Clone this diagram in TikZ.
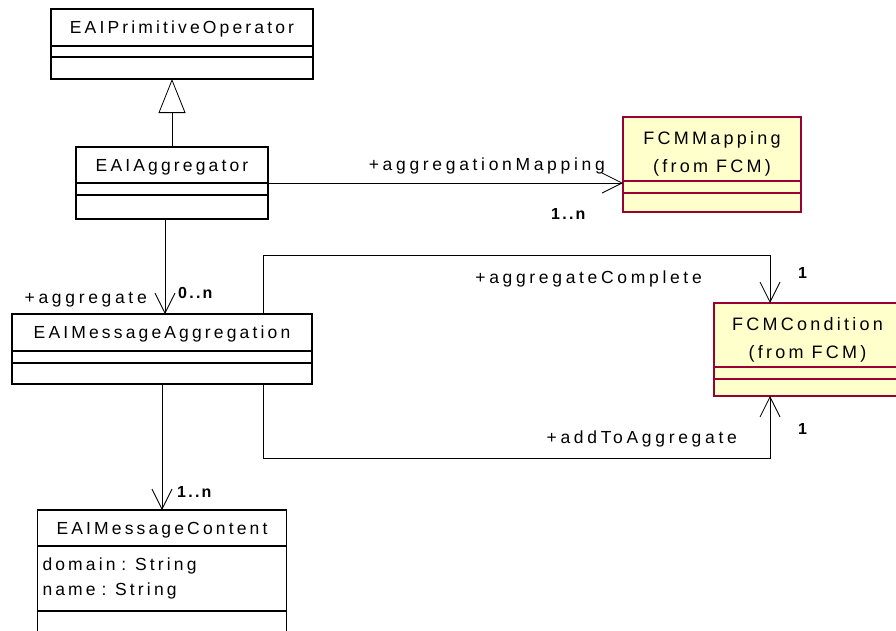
\documentclass[tikz,border=0pt]{standalone}
\usepackage{fontspec}
\setmainfont{Liberation Sans}
\newfontfamily\umlfont{Liberation Sans}[LetterSpace=18]
\newfontfamily\rolefont{Liberation Sans}[LetterSpace=21]
\newfontfamily\multfont{Liberation Sans}[LetterSpace=14]
\usepackage{xcolor}
\usetikzlibrary{positioning, arrows.meta}

\definecolor{fcmfill}{RGB}{255,255,204}
\definecolor{fcmline}{RGB}{153,0,51}

\tikzset{
  clsbox/.style={draw, rectangle, inner sep=0pt, outer sep=0pt, line width=1.2pt},
  clshead/.style={clsbox, text height=12.5pt, text depth=0pt, font=\umlfont\fontsize{17.5}{20}\selectfont},
  fcmhead/.style={clsbox, fcm, align=center, text height=46.5pt, text depth=0pt, font=\umlfont\fontsize{18}{28}\selectfont},
  clspart/.style={clsbox},
  fcm/.style={fill=fcmfill, draw=fcmline},
  role/.style={inner sep=0pt, font=\rolefont\fontsize{17.5}{20}\selectfont},
  mult/.style={inner sep=0pt, font=\multfont\bfseries\fontsize{16}{18}\selectfont},
  assoc/.style={-{Straight Barb[length=20pt, width=20pt]}, line width=0.8pt},
  inherit/.style={-{Triangle[open, length=34pt, width=27pt]}, line width=0.8pt},
}

\begin{document}
\begin{tikzpicture}[x=1pt, y=-1pt]
    \useasboundingbox (0,0) rectangle (896,630);

    % --- CLASSES (left column) ---
    \node (prim) [clshead, minimum width=262pt, minimum height=37pt, anchor=north west] at (51,9) {EAIPrimitiveOperator};
    \node (prim-a) [clspart, minimum width=262pt, minimum height=11pt, below=0pt of prim] {};
    \node (prim-o) [clspart, minimum width=262pt, minimum height=22pt, below=0pt of prim-a] {};

    \node (agg) [clshead, minimum width=192pt, minimum height=36pt, below=68pt of prim-o, xshift=-10pt] {EAIAggregator};
    \node (agg-a) [clspart, minimum width=192pt, minimum height=12pt, below=0pt of agg] {};
    \node (agg-o) [clspart, minimum width=192pt, minimum height=24pt, below=0pt of agg-a] {};

    \node (msg) [clshead, minimum width=300pt, minimum height=37pt, below=95pt of agg-o, xshift=-10pt] {EAIMessageAggregation};
    \node (msg-a) [clspart, minimum width=300pt, minimum height=12pt, below=0pt of msg] {};
    \node (msg-o) [clspart, minimum width=300pt, minimum height=21pt, below=0pt of msg-a] {};

    \node (cont) [clshead, minimum width=249pt, minimum height=36pt, below=126pt of msg-o] {EAIMessageContent};
    \node (cont-a) [clspart, minimum width=249pt, minimum height=65pt, below=0pt of cont, inner xsep=5pt, text width=239pt, align=left,
        font=\umlfont\fontsize{17.5}{25}\selectfont] {domain : String\\name : String};
    \node (cont-o) [clspart, minimum width=249pt, minimum height=30pt, below=0pt of cont-a] {};

    % --- CLASSES from FCM (right) ---
    \node (map) [fcmhead, minimum width=178pt, minimum height=64pt, anchor=north west] at (623,117) {FCMMapping\\(from FCM)};
    \node (map-a) [clspart, fcm, minimum width=178pt, minimum height=12pt, below=0pt of map] {};
    \node (map-o) [clspart, fcm, minimum width=178pt, minimum height=19pt, below=0pt of map-a] {};

    \node (cond) [fcmhead, minimum width=187pt, minimum height=64pt, anchor=north west] at (714,303) {FCMCondition\\(from FCM)};
    \node (cond-a) [clspart, fcm, minimum width=187pt, minimum height=12pt, below=0pt of cond] {};
    \node (cond-o) [clspart, fcm, minimum width=187pt, minimum height=17pt, below=0pt of cond-a] {};

    % --- CONNECTORS ---
    \draw[inherit] (agg.north) -- (agg.north |- prim-o.south);
    \draw[assoc] (agg.south east) -- (agg.south east -| map.west);
    \draw[assoc] ([xshift=-7pt]agg-o.south) -- ([xshift=-7pt]agg-o.south |- msg.north);
    \draw[assoc] (msg-o.south) -- (msg-o.south |- cont.north);
    \draw[assoc] ([xshift=101pt]msg.north) -- ++(0,-59) -| ([xshift=-37.5pt]cond.north);
    \draw[assoc] ([xshift=101pt]msg-o.south) -- ++(0,74) -| ([xshift=-37.5pt]cond-o.south);

    % --- ROLES and MULTIPLICITIES ---
    \node (lbl-map) [role, anchor=base east] at (605,170) {+aggregationMapping};
    \node (m-map) [mult, anchor=base west] at (551,219) {1..n};
    \node (lbl-agg) [role, anchor=base east] at (147,303) {+aggregate};
    \node (m-agg) [mult, anchor=base west] at (178,298) {0..n};
    \node (m-cont) [mult, anchor=base west] at (177,497) {1..n};
    \node (lbl-comp) [role, anchor=base east] at (702,283) {+aggregateComplete};
    \node (m-comp) [mult, anchor=base west] at (798,278) {1};
    \node (lbl-add) [role, anchor=base east] at (737,443) {+addToAggregate};
    \node (m-add) [mult, anchor=base west] at (798,434) {1};

\end{tikzpicture}
\end{document}
